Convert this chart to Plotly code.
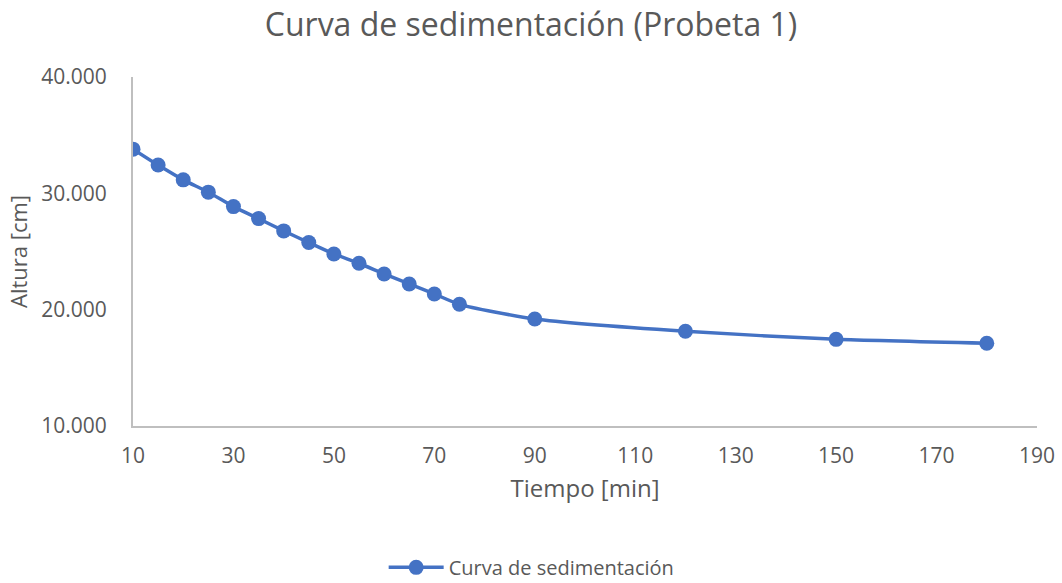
import plotly.graph_objects as go

# Sedimentation test, cylinder 1
tiempo_min = [10, 15, 20, 25, 30, 35, 40, 45, 50, 55, 60, 65, 70, 75, 90, 120, 150, 180]
altura_cm = [33.80, 32.43, 31.16, 30.10, 28.86, 27.83, 26.77, 25.77, 24.79, 23.99,
             23.07, 22.21, 21.35, 20.46, 19.20, 18.14, 17.45, 17.11]

x_ticks = [10, 30, 50, 70, 90, 110, 130, 150, 170, 190]
y_ticks = [10, 20, 30, 40]

grey = "#595959"
axis_grey = "#bfbfbf"
blue = "#4472C4"
font_family = "Open Sans, Noto Sans, sans-serif"

fig = go.Figure()
fig.add_trace(go.Scatter(
    x=tiempo_min,
    y=altura_cm,
    mode="lines+markers",
    name="Curva de sedimentación",
    line=dict(color=blue, width=3.5, shape="spline", smoothing=0.6),
    marker=dict(color=blue, size=15),
))

fig.update_layout(
    width=1062,
    height=583,
    paper_bgcolor="white",
    plot_bgcolor="white",
    margin=dict(l=133, r=25, t=77, b=157, autoexpand=False),
    font=dict(family=font_family, color=grey),
    title=dict(
        text="Curva de sedimentación (Probeta 1)",
        x=0.5, xanchor="center",
        y=1 - 25 / 583, yanchor="middle",
        font=dict(size=32, color=grey, family=font_family),
    ),
    xaxis=dict(
        range=[10, 190],
        tickvals=x_ticks,
        showgrid=False,
        zeroline=False,
        showline=True,
        linecolor=axis_grey,
        linewidth=2,
        ticks="",
        ticklabelstandoff=10,
        tickfont=dict(size=21, color=grey),
        title=dict(text="Tiempo [min]", font=dict(size=24, color=grey), standoff=12),
    ),
    yaxis=dict(
        range=[10, 40],
        tickvals=y_ticks,
        tickformat=".3f",
        showgrid=False,
        zeroline=False,
        showline=True,
        linecolor=axis_grey,
        linewidth=2,
        ticks="",
        ticklabelstandoff=20,
        tickfont=dict(size=21, color=grey),
        title=dict(text="Altura [cm]", font=dict(size=22, color=grey), standoff=8),
    ),
    showlegend=True,
    legend=dict(
        orientation="h",
        x=0.441, xanchor="center",
        y=-0.405, yanchor="middle",
        itemwidth=55,
        font=dict(size=20, color=grey),
    ),
)

fig.write_html("out.html")
